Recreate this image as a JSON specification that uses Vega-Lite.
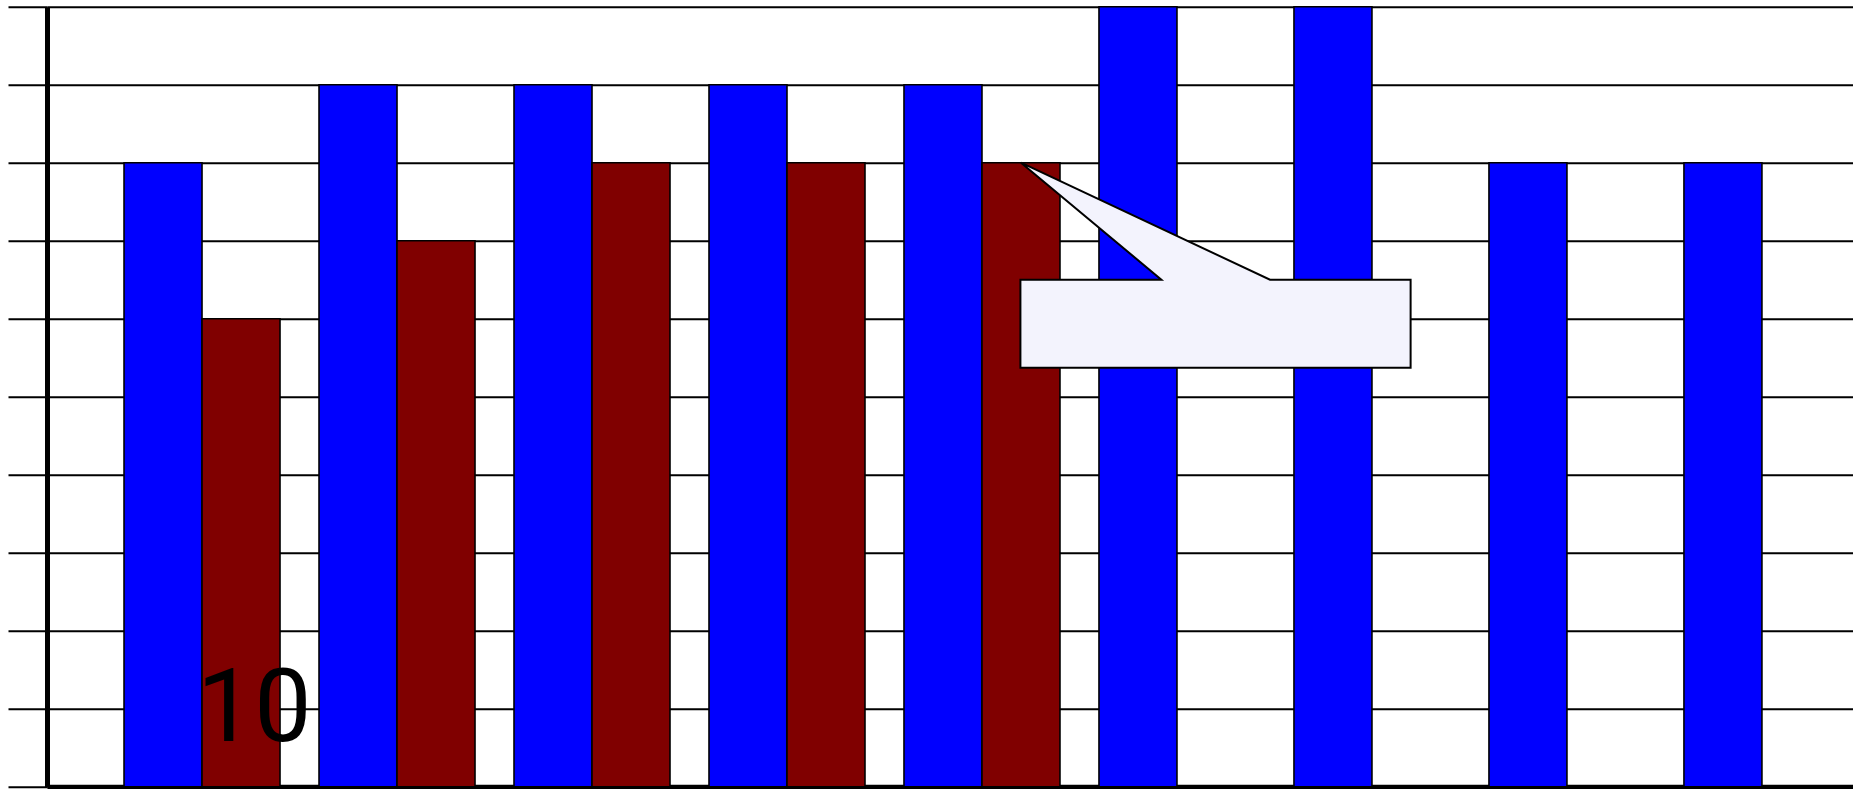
{
  "$schema": "https://vega.github.io/schema/vega-lite/v6.json",
  "width": 1806,
  "height": 780,
  "autosize": {"type": "none"},
  "padding": {"left": 47, "top": 6.7, "right": 0, "bottom": 2.3},
  "background": "white",
  "config": {"view": {"stroke": null}},
  "datasets": {
    "bars": [
      {"group": "1", "series": "A", "value": 8},
      {"group": "1", "series": "B", "value": 6},
      {"group": "2", "series": "A", "value": 9},
      {"group": "2", "series": "B", "value": 7},
      {"group": "3", "series": "A", "value": 9},
      {"group": "3", "series": "B", "value": 8},
      {"group": "4", "series": "A", "value": 9},
      {"group": "4", "series": "B", "value": 8},
      {"group": "5", "series": "A", "value": 9},
      {"group": "5", "series": "B", "value": 8},
      {"group": "6", "series": "A", "value": 10},
      {"group": "7", "series": "A", "value": 10},
      {"group": "8", "series": "A", "value": 8},
      {"group": "9", "series": "A", "value": 8}
    ],
    "callout": [
      {"k": 1, "u": 5.2, "v": 8.0},
      {"k": 2, "u": 5.92, "v": 6.5},
      {"k": 3, "u": 5.197, "v": 6.5},
      {"k": 4, "u": 5.197, "v": 5.37},
      {"k": 5, "u": 7.198, "v": 5.37},
      {"k": 6, "u": 7.198, "v": 6.5},
      {"k": 7, "u": 6.477, "v": 6.5},
      {"k": 8, "u": 5.2, "v": 8.0}
    ],
    "labels": [
      {"u": 0.974, "v": 0.586, "label": "10"}
    ]
  },
  "layer": [
    {
      "data": {"name": "bars"},
      "mark": {"type": "bar", "stroke": "black", "strokeWidth": 1.6},
      "encoding": {
        "x": {
          "field": "group",
          "type": "nominal",
          "scale": {"paddingInner": 0.2, "paddingOuter": 0.231, "align": 0.855},
          "axis": {"labels": false, "ticks": false, "title": null, "domainColor": "black", "domainWidth": 5}
        },
        "xOffset": {"field": "series", "type": "nominal", "scale": {"paddingInner": 0, "paddingOuter": 0}},
        "y": {
          "field": "value",
          "type": "quantitative",
          "scale": {"domain": [0, 10], "nice": false},
          "axis": {
            "values": [0, 1, 2, 3, 4, 5, 6, 7, 8, 9, 10],
            "labels": false,
            "title": null,
            "tickSize": 39,
            "tickColor": "black",
            "tickWidth": 2,
            "grid": true,
            "gridColor": "black",
            "gridWidth": 2,
            "gridOpacity": 1,
            "domainColor": "black",
            "domainWidth": 5
          }
        },
        "color": {
          "field": "series",
          "type": "nominal",
          "scale": {"domain": ["A", "B"], "range": ["#0000ff", "#800000"]},
          "legend": null
        }
      }
    },
    {
      "data": {"name": "callout"},
      "mark": {"type": "line", "fill": "#f3f3fd", "stroke": "black", "strokeWidth": 2, "strokeJoin": "miter"},
      "encoding": {
        "x": {"field": "u", "type": "quantitative", "scale": {"domain": [0.2051, 9.4667], "nice": false, "zero": false}, "axis": null},
        "y": {"field": "v", "type": "quantitative", "scale": {"domain": [0, 10], "nice": false}, "axis": null},
        "order": {"field": "k", "type": "quantitative"}
      }
    },
    {
      "data": {"name": "labels"},
      "mark": {"type": "text", "font": "Roboto", "fontSize": 102, "align": "left", "baseline": "alphabetic", "color": "black"},
      "encoding": {
        "x": {"field": "u", "type": "quantitative", "scale": {"domain": [0.2051, 9.4667], "nice": false, "zero": false}, "axis": null},
        "y": {"field": "v", "type": "quantitative", "scale": {"domain": [0, 10], "nice": false}, "axis": null},
        "text": {"field": "label", "type": "nominal"}
      }
    }
  ],
  "resolve": {"scale": {"x": "independent"}, "axis": {"x": "independent", "y": "independent"}}
}
